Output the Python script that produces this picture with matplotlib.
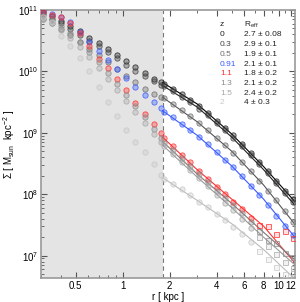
import matplotlib.pyplot as plt
import numpy as np
from matplotlib.colors import to_rgba
from matplotlib.ticker import FixedLocator, NullFormatter, LogLocator

plt.rcParams['font.family'] = ['Liberation Sans', 'DejaVu Sans']
plt.rcParams['mathtext.fontset'] = 'custom'
plt.rcParams['mathtext.rm'] = 'Liberation Sans'

# radii of the profile points (kpc)
r_in = [0.31, 0.35, 0.40, 0.46, 0.53, 0.61, 0.70, 0.80, 0.92, 1.05, 1.20, 1.38, 1.58, 1.75]
r_out = [1.85, 2.1, 2.4, 2.7, 3.1, 3.5, 4.0, 4.5, 5.1, 5.8, 6.6, 7.5, 8.5, 9.6, 10.9, 12.3]
r_fit = [1.8, 3.0, 5.0, 8.0, 12.7]

z_labels = ["0", "0.3", "0.5", "0.91", "1.1", "1.3", "1.5", "2"]
reff_labels = ["2.7 ± 0.08", "2.9 ± 0.1", "1.9 ± 0.1", "2.1 ± 0.1",
               "1.8 ± 0.2", "2.1 ± 0.2", "2.4 ± 0.2", "4 ± 0.3"]
colors = ["#222222", "#444444", "#6e6e6e", "#3a5cff", "#ff3030", "#8c8c8c", "#a8a8a8", "#c8c8c8"]
line_colors = ["#000000", "#222222", "#555555", "#3a5cff", "#ff3030", "#777777", "#999999", "#bbbbbb"]

# log10 surface density, inner (r < 1.8 kpc)
logS_in = [
    [10.97, 10.90, 10.82, 10.74, 10.65, 10.55, 10.46, 10.37, 10.27, 10.17, 10.07, 9.97, 9.88, 9.83],
    [10.93, 10.86, 10.78, 10.69, 10.60, 10.50, 10.41, 10.31, 10.21, 10.11, 10.01, 9.92, 9.84, 9.78],
    [10.86, 10.78, 10.69, 10.59, 10.48, 10.37, 10.26, 10.15, 10.04, 9.93, 9.82, 9.72, 9.63, 9.58],
    [10.99, 10.94, 10.88, 10.80, 10.64, 10.48, 10.34, 10.18, 10.04, 9.90, 9.75, 9.61, 9.50, 9.40],
    [10.96, 10.92, 10.88, 10.78, 10.62, 10.42, 10.20, 10.05, 9.87, 9.69, 9.49, 9.31, 9.14, 9.00],
    [10.90, 10.83, 10.74, 10.62, 10.48, 10.32, 10.15, 9.98, 9.80, 9.62, 9.44, 9.25, 9.06, 8.92],
    [10.86, 10.78, 10.68, 10.55, 10.40, 10.23, 10.06, 9.88, 9.70, 9.52, 9.34, 9.16, 8.98, 8.85],
    [10.88, 10.80, 10.58, 10.42, 10.22, 10.00, 9.75, 9.50, 9.28, 9.05, 8.85, 8.68, 8.50, 8.32],
]

# log10 surface density, outer (r > 1.8 kpc)
logS_out = [
    [9.80, 9.72, 9.63, 9.54, 9.43, 9.33, 9.20, 9.08, 8.96, 8.82, 8.67, 8.52, 8.37, 8.22, 8.06, 7.92],
    [9.76, 9.68, 9.59, 9.50, 9.39, 9.29, 9.16, 9.05, 8.92, 8.79, 8.64, 8.49, 8.34, 8.18, 8.02, 7.87],
    [9.56, 9.47, 9.37, 9.28, 9.16, 9.05, 8.92, 8.80, 8.67, 8.53, 8.38, 8.22, 8.06, 7.90, 7.72, 7.54],
    [9.34, 9.25, 9.15, 9.05, 8.93, 8.82, 8.68, 8.56, 8.44, 8.30, 8.14, 7.98, 7.82, 7.65, 7.48, 7.33],
    [8.92, 8.78, 8.64, 8.53, 8.38, 8.25, 8.12, 8.00, 7.88, 7.76, 7.62, 7.50, 7.49, 7.36, 7.40, 7.28],
    [8.84, 8.72, 8.59, 8.46, 8.33, 8.20, 8.06, 7.94, 7.82, 7.69, 7.55, 7.40, 7.25, 7.20, 7.05, 6.98],
    [8.78, 8.66, 8.52, 8.40, 8.26, 8.14, 7.99, 7.86, 7.74, 7.60, 7.45, 7.30, 7.15, 7.02, 6.90, 6.80],
    [8.25, 8.17, 8.08, 7.99, 7.88, 7.79, 7.68, 7.58, 7.47, 7.35, 7.22, 7.08, 6.95, 6.82, 6.70, 6.66],
]

# Sersic fits, log10 surface density at r_fit
logS_fit = [
    [9.82, 9.47, 8.98, 8.45, 7.88],
    [9.77, 9.42, 8.93, 8.40, 7.82],
    [9.58, 9.18, 8.70, 8.15, 7.51],
    [9.36, 8.96, 8.46, 7.92, 7.30],
    [8.93, 8.40, 7.92, 7.48, 6.88],
    [8.86, 8.33, 7.85, 7.38, 6.93],
    [8.80, 8.28, 7.78, 7.30, 6.85],
    [8.27, 7.90, 7.52, 7.10, 6.62],
]

fig = plt.figure(figsize=(3.0, 3.02), dpi=100)
ax = fig.add_axes([0.137, 0.079, 0.846, 0.888])

x0, x1 = 0.3, 12.7
ax.axvspan(x0, 1.8, color="#e4e4e4", zorder=0, lw=0)
ax.axvline(1.8, color="#777777", ls=(0, (4, 3)), lw=0.8, zorder=1)

for i in range(len(z_labels)):
    fc = to_rgba(colors[i], 0.35)
    ec = to_rgba(colors[i], 0.85)
    r_all = r_in + r_out
    s_all = 10 ** np.array(logS_in[i] + logS_out[i])
    # higher-z outskirts are drawn as squares
    n_c = len(r_in) + 11 if i >= 4 else len(r_all)
    ax.plot(r_all[:n_c], s_all[:n_c], "o", ms=3.8, mfc=fc, mec=ec, mew=0.6, zorder=3)
    if n_c < len(r_all):
        ax.plot(r_all[n_c:], s_all[n_c:], "s", ms=3.6, mfc=to_rgba(colors[i], 0.15),
                mec=ec, mew=0.6, zorder=3)
    ax.plot(r_fit, 10 ** np.array(logS_fit[i]), "-", color=line_colors[i], lw=0.8, zorder=2)

ax.set_xscale("log")
ax.set_yscale("log")
ax.set_xlim(x0, x1)
ax.set_ylim(4.3e6, 1e11)

ax.xaxis.set_major_locator(FixedLocator([0.5, 1, 2, 4, 6, 8, 10, 12]))
ax.set_xticklabels(["0.5", "1", "2", "4", "6", "8", "10", "12"])
ax.xaxis.set_minor_locator(FixedLocator([0.3, 0.4, 0.6, 0.7, 0.8, 0.9, 3, 5, 7, 9, 11]))
ax.xaxis.set_minor_formatter(NullFormatter())
ax.yaxis.set_major_locator(LogLocator(base=10, numticks=10))
ax.yaxis.set_minor_locator(LogLocator(base=10, subs=np.arange(2, 10), numticks=10))
ax.yaxis.set_minor_formatter(NullFormatter())

ax.tick_params(which="both", direction="in", top=True, right=True, labelsize=7,
               color="#555555", pad=2)
ax.tick_params(which="major", length=4)
ax.tick_params(which="minor", length=2)
for s in ax.spines.values():
    s.set_color("#999999")
    s.set_linewidth(1.2)

ax.set_xlabel("r [ kpc ]", fontsize=7, labelpad=1)
ax.set_ylabel(r"$\Sigma$ [ M$_{\rm sun}$  kpc$^{-2}$ ]", fontsize=7, labelpad=1)

# legend as two text columns: z coloured, R_eff in black
ax.text(0.705, 0.944, "z", transform=ax.transAxes, fontsize=6, va="center", color="#222222")
ax.text(0.80, 0.944, r"R$_{\rm eff}$", transform=ax.transAxes, fontsize=6, va="center",
        color="#222222")
for i, (zl, rl) in enumerate(zip(z_labels, reff_labels)):
    y = 0.907 - i * 0.0362
    ax.text(0.705, y, zl, transform=ax.transAxes, fontsize=6, va="center", color=colors[i])
    ax.text(0.80, y, rl, transform=ax.transAxes, fontsize=6, va="center", color="#222222")

fig.savefig("out.png", dpi=100)
